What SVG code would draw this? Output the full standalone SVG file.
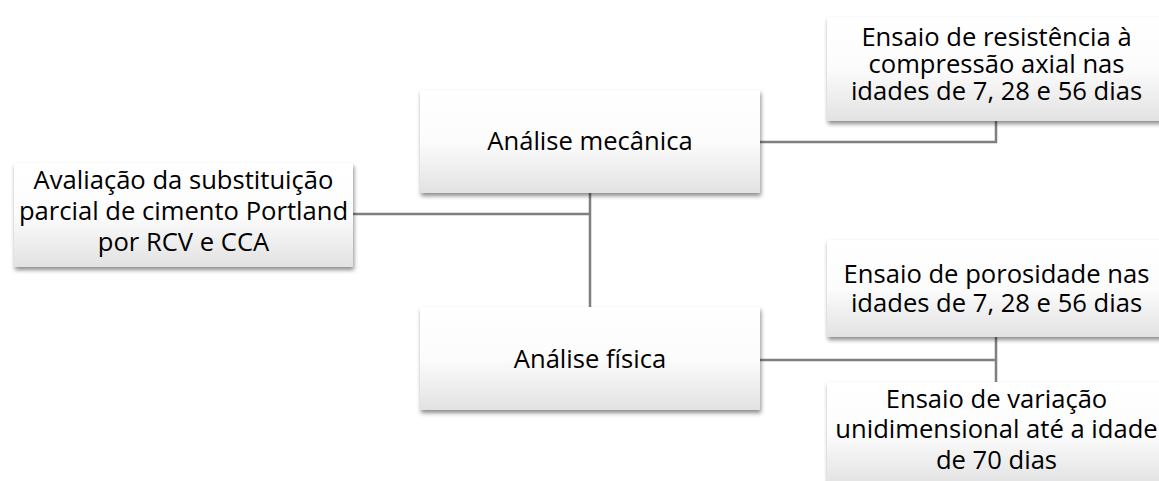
<svg xmlns="http://www.w3.org/2000/svg" width="1159" height="481" viewBox="0 0 1159 481">
  <style>
    .box { fill: url(#boxFill); filter: url(#shadow); }
    .label { font-family: "Open Sans", "Liberation Sans", sans-serif; font-size: 25.6px; fill: #000000; text-anchor: middle; }
    .link { fill: none; stroke: #7f7f7f; stroke-width: 2.5; }
  </style>
  <defs>
    <linearGradient id="boxFill" x1="0" y1="0" x2="0" y2="1">
      <stop offset="0" stop-color="#ffffff"/>
      <stop offset="0.5" stop-color="#fcfcfc"/>
      <stop offset="1" stop-color="#e2e2e2"/>
    </linearGradient>
    <filter id="shadow" x="-5%" y="-10%" width="115%" height="130%">
      <feDropShadow dx="1" dy="3" stdDeviation="2" flood-color="#000000" flood-opacity="0.45"/>
    </filter>
  </defs>

  <rect width="1159" height="481" fill="#ffffff"/>

  <!-- connectors -->
  <g id="connectors">
    <path class="link" d="M353,214 H590"/>
    <path class="link" d="M590,193 V307"/>
    <path class="link" d="M760,142 H996 V121"/>
    <path class="link" d="M760,360 H996"/>
    <path class="link" d="M996,337 V382"/>
  </g>

  <!-- root -->
  <g id="node-avaliacao">
    <rect class="box" x="14" y="163" width="339" height="104"/>
    <text class="label" x="183.5" y="189">Avaliação da substituição</text>
    <text class="label" x="183.5" y="220">parcial de cimento Portland</text>
    <text class="label" x="183.5" y="251">por RCV e CCA</text>
  </g>

  <!-- second level -->
  <g id="node-mecanica">
    <rect class="box" x="420" y="90" width="340" height="103"/>
    <text class="label" x="590" y="150">Análise mecânica</text>
  </g>
  <g id="node-fisica">
    <rect class="box" x="420" y="307" width="340" height="103"/>
    <text class="label" x="590" y="368">Análise física</text>
  </g>

  <!-- tests -->
  <g id="node-compressao">
    <rect class="box" x="827" y="17" width="339" height="104"/>
    <text class="label" x="996.5" y="46">Ensaio de resistência à</text>
    <text class="label" x="996.5" y="73">compressão axial nas</text>
    <text class="label" x="996.5" y="100">idades de 7, 28 e 56 dias</text>
  </g>
  <g id="node-porosidade">
    <rect class="box" x="827" y="240" width="339" height="97"/>
    <text class="label" x="996.5" y="283">Ensaio de porosidade nas</text>
    <text class="label" x="996.5" y="312">idades de 7, 28 e 56 dias</text>
  </g>
  <g id="node-variacao">
    <rect class="box" x="827" y="382" width="339" height="104"/>
    <text class="label" x="996.5" y="408">Ensaio de variação</text>
    <text class="label" x="996.5" y="438">unidimensional até a idade</text>
    <text class="label" x="996.5" y="469">de 70 dias</text>
  </g>
</svg>
